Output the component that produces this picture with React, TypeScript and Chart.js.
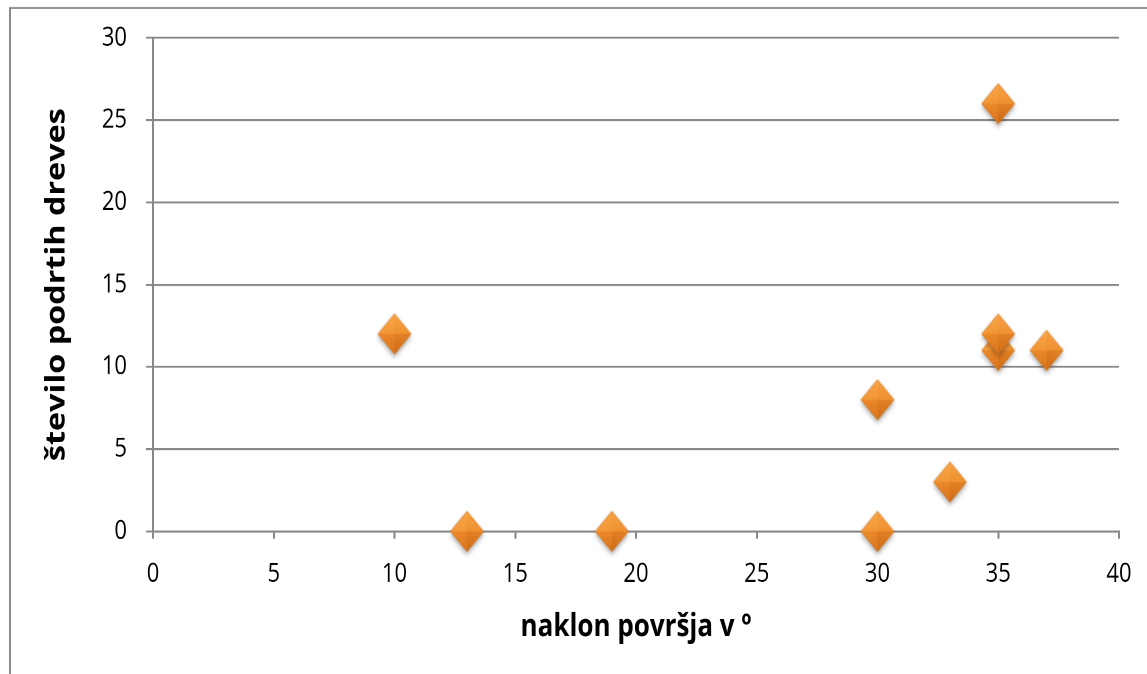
import React, { useEffect, useRef } from "react";
import { Chart, registerables } from "chart.js";

Chart.register(...registerables);

const xValues = [10, 13, 19, 30, 30, 33, 35, 35, 35, 37];
const yValues = [12, 0, 0, 8, 0, 3, 26, 11, 12, 11];
const xTitle = "naklon površja v º";
const yTitle = "število podrtih dreves";

// The reference is stretched vertically; draw at a logical height and stretch with CSS.
const W = 1147;
const H = 552;

function makeDiamond(): HTMLCanvasElement {
  const c = document.createElement("canvas");
  const S = 48;
  c.width = S; c.height = S;
  const ctx = c.getContext("2d")!;
  const cx = S / 2, cy = S / 2;
  const hw = 16.5, hh = 16.5;
  ctx.save();
  ctx.shadowColor = "rgba(0,0,0,0.35)";
  ctx.shadowBlur = 4;
  ctx.shadowOffsetY = 2.5;
  ctx.beginPath();
  ctx.moveTo(cx, cy - hh); ctx.lineTo(cx + hw, cy); ctx.lineTo(cx, cy + hh); ctx.lineTo(cx - hw, cy); ctx.closePath();
  ctx.fillStyle = "#E58A2C";
  ctx.fill();
  ctx.restore();
  const facet = (pts: number[][], c0: string, c1: string, gx0: number, gy0: number, gx1: number, gy1: number) => {
    const g = ctx.createLinearGradient(gx0, gy0, gx1, gy1);
    g.addColorStop(0, c0); g.addColorStop(1, c1);
    ctx.beginPath();
    ctx.moveTo(pts[0][0], pts[0][1]);
    for (let i = 1; i < pts.length; i++) ctx.lineTo(pts[i][0], pts[i][1]);
    ctx.closePath();
    ctx.fillStyle = g;
    ctx.fill();
  };
  facet([[cx, cy - hh], [cx, cy], [cx - hw, cy]], "#F8A84C", "#F29634", cx - 6, cy - hh, cx - 4, cy);
  facet([[cx, cy - hh], [cx + hw, cy], [cx, cy]], "#F6A246", "#EF9130", cx + 4, cy - hh, cx + 4, cy);
  facet([[cx - hw, cy], [cx, cy], [cx, cy + hh]], "#EB882A", "#D9741C", cx - 4, cy, cx - 2, cy + hh);
  facet([[cx, cy], [cx + hw, cy], [cx, cy + hh]], "#E38026", "#CC6C16", cx + 4, cy, cx + 2, cy + hh);
  ctx.beginPath();
  ctx.moveTo(cx, cy - hh); ctx.lineTo(cx + hw, cy); ctx.lineTo(cx, cy + hh); ctx.lineTo(cx - hw, cy); ctx.closePath();
  ctx.strokeStyle = "rgba(200,110,30,0.6)";
  ctx.lineWidth = 0.8;
  ctx.stroke();
  return c;
}

const frame = {
  id: "frame",
  beforeDraw(chart: any) {
    const ctx = chart.ctx;
    ctx.save();
    ctx.fillStyle = "#ffffff";
    ctx.fillRect(0, 0, chart.width, chart.height);
    ctx.strokeStyle = "#8a8a8a";
    ctx.lineWidth = 1.6;
    ctx.beginPath();
    ctx.moveTo(9, 6.6);
    ctx.lineTo(chart.width, 6.6);
    ctx.stroke();
    ctx.lineWidth = 2;
    ctx.beginPath();
    ctx.moveTo(10, 6);
    ctx.lineTo(10, chart.height);
    ctx.stroke();
    ctx.restore();
  },
};

export default function App() {
  const ref = useRef<HTMLCanvasElement>(null);
  useEffect(() => {
    const diamond = makeDiamond();
    const font = "'Open Sans', 'DejaVu Sans', sans-serif";
    const chart = new Chart(ref.current!, {
      type: "scatter",
      data: {
        datasets: [
          {
            data: xValues.map((x, i) => ({ x, y: yValues[i] })),
            pointStyle: diamond as any,
            pointRadius: 17,
            clip: false as any,
          },
        ],
      },
      options: {
        animation: false,
        responsive: false,
        devicePixelRatio: 2,
        events: [],
        layout: { padding: { left: 0, top: 31, right: 28, bottom: 0 } },
        plugins: { legend: { display: false }, tooltip: { enabled: false } },
        scales: {
          x: {
            type: "linear",
            min: 0,
            max: 40,
            ticks: { stepSize: 5, color: "#000", font: { family: font, size: 22 }, padding: 15.6 },
            grid: { drawOnChartArea: false, drawTicks: true, tickLength: 6, color: "#888", lineWidth: 2 },
            border: { color: "#888", width: 1.6 },
            title: { display: true, text: xTitle, color: "#000", font: { family: font, size: 26, weight: "bold" }, padding: { bottom: 23 } },
            afterFit: (s: any) => { s.height = H - 435.2; s.paddingLeft = 0; s.paddingRight = 0; },
          },
          y: {
            min: 0,
            max: 30,
            ticks: { stepSize: 5, color: "#000", font: { family: font, size: 22 }, padding: 19 },
            grid: { drawTicks: true, tickLength: 7, color: "#888", lineWidth: 1.6 },
            border: { color: "#888", width: 2 },
            title: { display: true, text: yTitle, color: "#000", font: { family: font, size: 26.5, weight: "bold" }, padding: { top: 41 } },
            afterFit: (s: any) => { s.width = 153; s.paddingTop = 0; s.paddingBottom = 0; },
          },
        },
      },
      plugins: [frame],
    });
    return () => chart.destroy();
  }, []);
  return (
    <canvas
      ref={ref}
      width={W}
      height={H}
      style={{ position: "fixed", left: 0, top: 0, width: 1147, height: 674, display: "block" }}
    />
  );
}
